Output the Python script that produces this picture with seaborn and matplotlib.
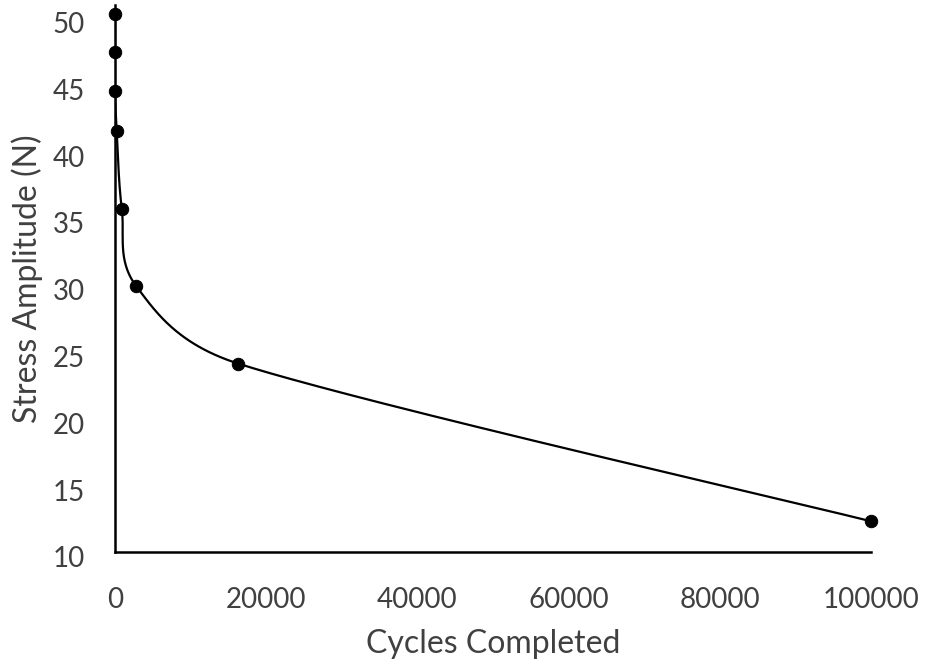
import numpy as np
import pandas as pd
import matplotlib
matplotlib.use("Agg")
import matplotlib.pyplot as plt
import matplotlib.transforms as mtransforms
import seaborn as sns

# Datos
ciclos = [0, 0, 0, 220, 890, 2800, 16300, 100000]
amplitud = [50.26, 47.4, 44.5, 41.5, 35.7, 29.9, 24.1, 12.3]
xticks = [0, 20000, 40000, 60000, 80000, 100000]
yticks = [10, 15, 20, 25, 30, 35, 40, 45, 50]

df = pd.DataFrame({"Ciclos": ciclos, "Amplitud": amplitud})

sns.set_theme(style="white")
plt.rcParams["font.family"] = ["Lato", "DejaVu Sans"]

fig = plt.figure(figsize=(9.27, 6.69), dpi=100)
ax = fig.add_axes([0.1241, 0.1749, 0.8155, 0.8176])
ax.set_xlim(0, 100000)
ax.set_ylim(10, 50.94)

# Curva suavizada tipo Excel (Bezier con tension limitada, en pixeles)
sx = 756.0 / 100000
sy = 547.0 / 40.94
P = np.column_stack([df["Ciclos"] * sx, df["Amplitud"] * sy])
Pe = np.vstack([P[0], P, P[-1]])
t = np.linspace(0, 1, 80)[:, None]
curva = []
for i in range(1, len(Pe) - 2):
    p0, p1, p2, p3 = Pe[i - 1], Pe[i], Pe[i + 1], Pe[i + 2]
    d02 = np.linalg.norm(p2 - p0)
    d12 = np.linalg.norm(p2 - p1)
    d13 = np.linalg.norm(p3 - p1)
    f0 = 1 / 6 if d02 / 6 < d12 / 2 else d12 / d02 / 2
    f1 = 1 / 6 if d13 / 6 < d12 / 2 else d12 / d13 / 2
    c1 = p1 + (p2 - p0) * f0
    c2 = p2 - (p3 - p1) * f1
    b = ((1 - t) ** 3) * p1 + 3 * ((1 - t) ** 2) * t * c1 + 3 * (1 - t) * t ** 2 * c2 + t ** 3 * p2
    curva.append(b)
curva = np.vstack(curva)
ax.plot(curva[:, 0] / sx, curva[:, 1] / sy, color="black", lw=1.6, zorder=3)

sns.scatterplot(data=df, x="Ciclos", y="Amplitud", ax=ax, color="black",
                s=80, edgecolor="black", zorder=4, clip_on=False)

gris = "#404040"
ax.set_xticks(xticks)
ax.set_yticks(yticks)
ax.tick_params(axis="x", length=0, labelsize=20, colors=gris, pad=25)
ax.tick_params(axis="y", length=0, labelsize=20, colors=gris, pad=22)
offset = mtransforms.ScaledTranslation(0, -5 / 100, fig.dpi_scale_trans)
for lab in ax.get_yticklabels():
    lab.set_transform(lab.get_transform() + offset)
ax.set_xlabel("Cycles Completed", fontsize=23, color=gris, labelpad=12)
ax.set_ylabel("Stress Amplitude (N)", fontsize=23, color=gris, labelpad=7)
for s in ["top", "right"]:
    ax.spines[s].set_visible(False)
for s in ["left", "bottom"]:
    ax.spines[s].set_color("black")
    ax.spines[s].set_linewidth(1.8)
ax.grid(False)

fig.savefig("out.png", dpi=100)
